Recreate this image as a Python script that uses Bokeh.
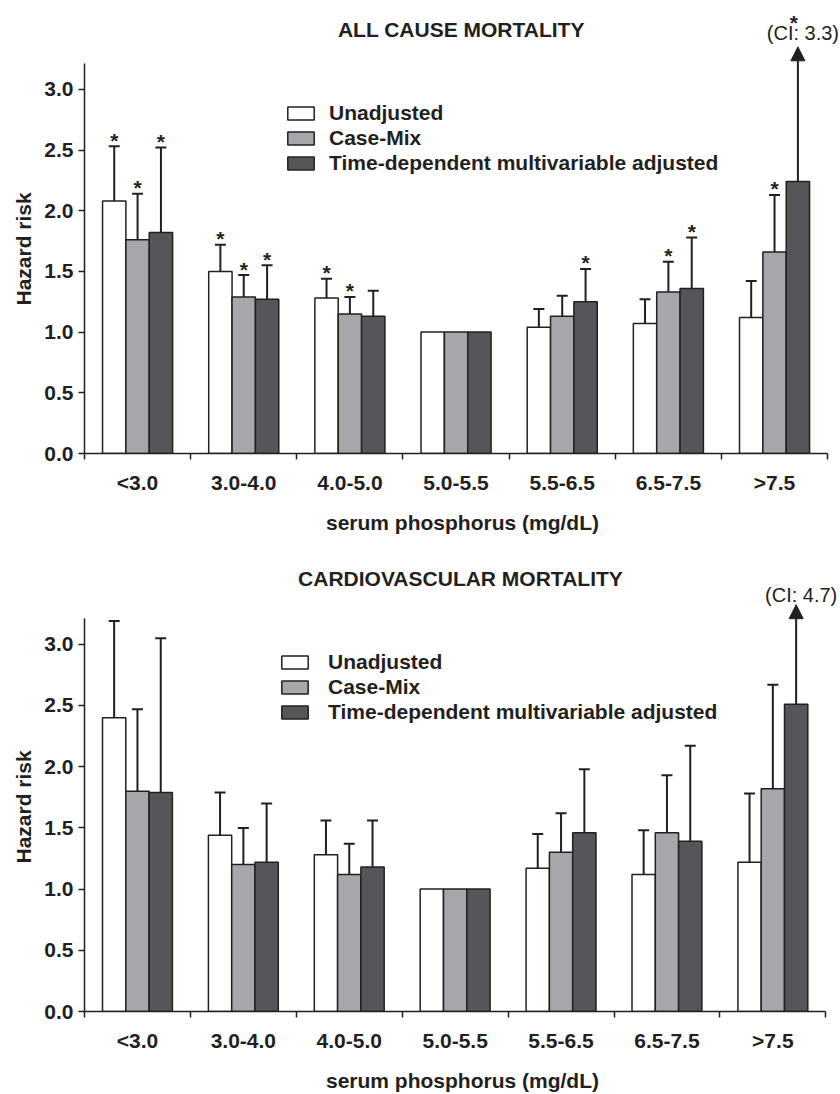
from bokeh.plotting import figure
from bokeh.models import (ColumnDataSource, FixedTicker, NumeralTickFormatter, Legend, LegendItem,
                          Whisker, TeeHead, Arrow, NormalHead, Label, Title)
from bokeh.layouts import column
from bokeh.core.properties import value
from bokeh.embed import file_html
from bokeh.resources import INLINE

# ---------------- data ----------------
categories = ["<3.0", "3.0-4.0", "4.0-5.0", "5.0-5.5", "5.5-6.5", "6.5-7.5", ">7.5"]
series = ["Unadjusted", "Case-Mix", "Time-dependent multivariable adjusted"]

# All cause mortality: hazard ratios, upper CI, significance
ac_unadj = [2.08, 1.50, 1.28, 1.00, 1.04, 1.07, 1.12]
ac_unadj_up = [2.53, 1.72, 1.44, None, 1.19, 1.27, 1.42]
ac_unadj_sig = [1, 1, 1, 0, 0, 0, 0]
ac_cmix = [1.76, 1.29, 1.15, 1.00, 1.13, 1.33, 1.66]
ac_cmix_up = [2.14, 1.47, 1.29, None, 1.30, 1.58, 2.13]
ac_cmix_sig = [1, 1, 1, 0, 0, 1, 1]
ac_tdep = [1.82, 1.27, 1.13, 1.00, 1.25, 1.36, 2.24]
ac_tdep_up = [2.52, 1.55, 1.34, None, 1.52, 1.78, 3.3]
ac_tdep_sig = [1, 1, 0, 0, 1, 1, 1]

# Cardiovascular mortality
cv_unadj = [2.40, 1.44, 1.28, 1.00, 1.17, 1.12, 1.22]
cv_unadj_up = [3.19, 1.79, 1.56, None, 1.45, 1.48, 1.78]
cv_unadj_sig = [0, 0, 0, 0, 0, 0, 0]
cv_cmix = [1.80, 1.20, 1.12, 1.00, 1.30, 1.46, 1.82]
cv_cmix_up = [2.47, 1.50, 1.37, None, 1.62, 1.93, 2.67]
cv_cmix_sig = [0, 0, 0, 0, 0, 0, 0]
cv_tdep = [1.79, 1.22, 1.18, 1.00, 1.46, 1.39, 2.51]
cv_tdep_up = [3.05, 1.70, 1.56, None, 1.98, 2.17, 4.7]
cv_tdep_sig = [0, 0, 0, 0, 0, 0, 0]

y_ticks = [0.0, 0.5, 1.0, 1.5, 2.0, 2.5, 3.0]
x_title = "serum phosphorus (mg/dL)"
y_title = "Hazard risk"

# ---------------- style ----------------
FILLS = ["#ffffff", "#a6a7ab", "#55565a"]
INK = "#231f20"
FONT = "Liberation Sans"
FS = "21px"
AXIS_MAX = 3.21
OFFSETS = [-0.22, 0.0, 0.22]
BAR_W = 0.22


def make_chart(title, vals, ups, sigs, width, height, left, bottom, ppu_x, ppu_y,
               legend_loc, legend_standoff, title_y_px, ytitle_offset, tip_px, ci_off):
    top = 2
    frame_w = width - left
    frame_h = height - top - bottom
    x_end = frame_w / ppu_x
    y_end = frame_h / ppu_y
    p = figure(width=width, height=height, x_range=(0, x_end), y_range=(0, y_end),
               output_backend="svg", toolbar_location=None,
               min_border_left=left, min_border_right=0, min_border_top=top,
               min_border_bottom=bottom)
    p.outline_line_color = None
    p.xgrid.visible = False
    p.ygrid.visible = False

    n = len(categories)
    items = []
    for s in range(3):
        xs = [i + 0.5 + OFFSETS[s] for i in range(n)]
        src = ColumnDataSource(dict(x=xs, top=vals[s]))
        r = p.vbar(x="x", top="top", width=BAR_W, bottom=0, source=src,
                   fill_color=FILLS[s], line_color=INK, line_width=1.5)
        items.append(LegendItem(label=series[s], renderers=[r]))

        wx, wl, wu = [], [], []
        sx, sy = [], []
        for i in range(n):
            u = ups[s][i]
            if u is None:
                continue
            if u <= AXIS_MAX:
                wx.append(xs[i]); wl.append(vals[s][i]); wu.append(u)
                if sigs[s][i]:
                    sx.append(xs[i]); sy.append(u + 6 / ppu_y)
            else:
                tip = AXIS_MAX + tip_px / ppu_y
                p.add_layout(Arrow(x_start=xs[i], y_start=vals[s][i], x_end=xs[i], y_end=tip,
                                   line_color=INK, line_width=2,
                                   end=NormalHead(size=14, fill_color=INK, line_color=INK,
                                                  line_width=1)))
                p.add_layout(Label(x=xs[i], y=tip, x_offset=5, y_offset=ci_off,
                                   text="(CI: %.1f)" % u, text_align="center",
                                   text_baseline="bottom", text_font=FONT,
                                   text_font_size="20px", text_color=INK))
                if sigs[s][i]:
                    p.add_layout(Label(x=xs[i], y=tip, x_offset=-4, y_offset=24, text="*",
                                       text_align="center", text_baseline="middle",
                                       text_font=FONT, text_font_size=FS,
                                       text_font_style="bold", text_color=INK))
        wsrc = ColumnDataSource(dict(base=wx, lower=wl, upper=wu))
        p.add_layout(Whisker(base="base", lower="lower", upper="upper", source=wsrc,
                             dimension="height", line_color=INK, line_width=2,
                             lower_head=None,
                             upper_head=TeeHead(size=11, line_color=INK, line_width=2),
                             level="overlay"))
        if sx:
            ssrc = ColumnDataSource(dict(x=sx, y=sy))
            p.text(x="x", y="y", text=value("*"), source=ssrc, text_align="center",
                   text_baseline="middle", text_font=value(FONT),
                   text_font_size=value(FS), text_font_style="bold", text_color=INK)

    # chart title
    p.add_layout(Label(x=3.55, y=y_end - (title_y_px - top) / ppu_y, text=title,
                       text_align="center", text_baseline="middle", text_font=FONT,
                       text_font_size=FS, text_font_style="bold", text_color=INK))

    # legend
    leg = Legend(items=items, location=legend_loc, padding=0, margin=0, spacing=1,
                 glyph_width=33, glyph_height=16, label_standoff=legend_standoff,
                 label_height=20, border_line_color=None, background_fill_alpha=0,
                 label_text_font=FONT, label_text_font_size=FS,
                 label_text_font_style="bold", label_text_color=INK)
    p.add_layout(leg)

    # x axis
    xa = p.xaxis[0]
    xa.bounds = (0, n)
    xa.ticker = FixedTicker(ticks=[i + 0.5 for i in range(n)], minor_ticks=list(range(n + 1)))
    xa.major_label_overrides = {i + 0.5: c for i, c in enumerate(categories)}
    xa.major_tick_line_color = None
    xa.major_tick_out = 0
    xa.major_tick_in = 0
    xa.minor_tick_out = 6
    xa.minor_tick_in = 0
    xa.minor_tick_line_color = INK
    xa.minor_tick_line_width = 1.5
    xa.axis_line_color = INK
    xa.axis_line_width = 1.5
    xa.major_label_standoff = 11
    xa.axis_label = x_title
    xa.axis_label_standoff = 14

    # y axis
    ya = p.yaxis[0]
    ya.bounds = (0, AXIS_MAX)
    ya.ticker = FixedTicker(ticks=y_ticks, minor_ticks=[])
    ya.formatter = NumeralTickFormatter(format="0.0")
    ya.major_tick_out = 6
    ya.major_tick_in = 0
    ya.major_tick_line_color = INK
    ya.major_tick_line_width = 1.5
    ya.minor_tick_line_color = None
    ya.axis_line_color = INK
    ya.axis_line_width = 1.5
    ya.major_label_standoff = 5

    for ax in (xa, ya):
        ax.major_label_text_font = FONT
        ax.major_label_text_font_size = FS
        ax.major_label_text_font_style = "bold"
        ax.major_label_text_color = INK
        ax.axis_label_text_font = FONT
        ax.axis_label_text_font_size = FS
        ax.axis_label_text_font_style = "bold"
        ax.axis_label_text_color = INK

    # y axis title, placed in the left panel outside the axis
    p.add_layout(Title(text=y_title, align="left", offset=ytitle_offset, standoff=14,
                       text_font=FONT, text_font_size=FS, text_font_style="bold",
                       text_color=INK), "left")
    return p


p1 = make_chart("ALL CAUSE MORTALITY",
                [ac_unadj, ac_cmix, ac_tdep], [ac_unadj_up, ac_cmix_up, ac_tdep_up],
                [ac_unadj_sig, ac_cmix_sig, ac_tdep_sig],
                width=840, height=545, left=83, bottom=92, ppu_x=106.3, ppu_y=121.4,
                legend_loc=(200, 278), legend_standoff=12, title_y_px=29,
                ytitle_offset=148, tip_px=17, ci_off=3)
p2 = make_chart("CARDIOVASCULAR MORTALITY",
                [cv_unadj, cv_cmix, cv_tdep], [cv_unadj_up, cv_cmix_up, cv_tdep_up],
                [cv_unadj_sig, cv_cmix_sig, cv_tdep_sig],
                width=840, height=549, left=84, bottom=80, ppu_x=105.9, ppu_y=123.2,
                legend_loc=(194, 287), legend_standoff=17, title_y_px=33,
                ytitle_offset=148, tip_px=14, ci_off=-1)

layout = column(p1, p2, spacing=0)
open("out.html", "w").write(file_html(layout, INLINE))
